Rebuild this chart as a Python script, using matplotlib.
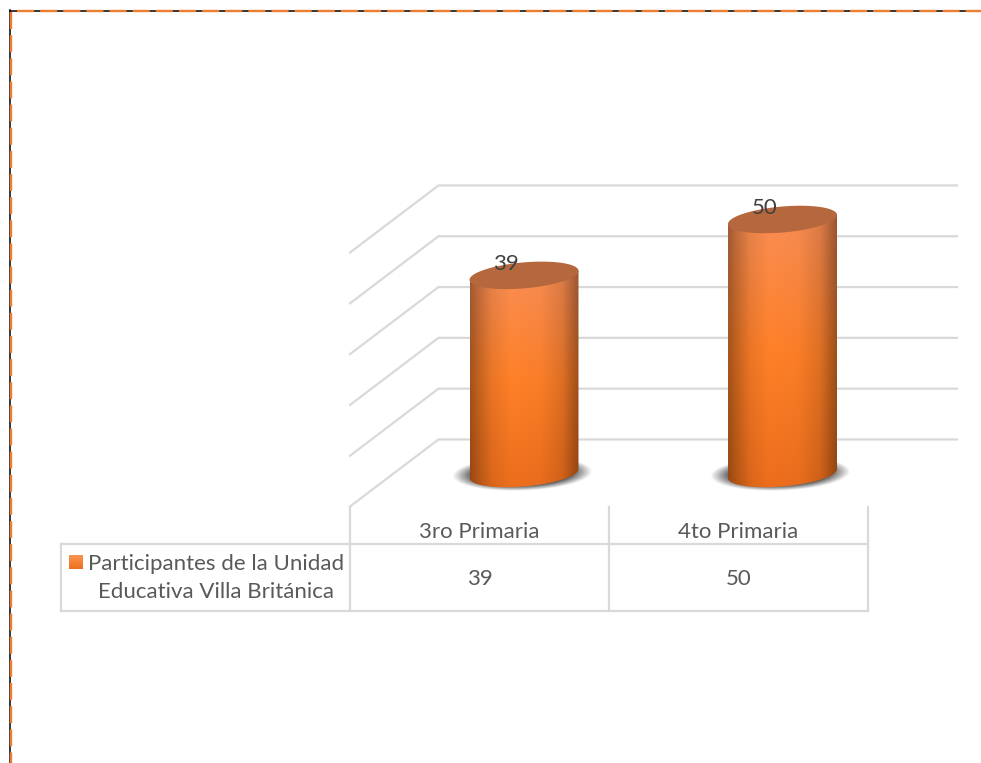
import numpy as np
import matplotlib.pyplot as plt
from matplotlib.path import Path
from matplotlib.patches import PathPatch

plt.rcParams['font.family'] = ['Lato', 'DejaVu Sans']

categories = ['3ro Primaria', '4to Primaria']
values = [39, 50]
series_name = ['Participantes de la Unidad', 'Educativa Villa Británica']
grid_values = [0, 10, 20, 30, 40, 50]

W, H = 981, 763
GRID = '#d9d9d9'
TXT = '#595959'

fig = plt.figure(figsize=(W / 100, H / 100), dpi=100, facecolor='white')

# pixel layer for the page frame and the data table
bg = fig.add_axes([0, 0, 1, 1])
bg.set_xlim(0, W)
bg.set_ylim(H, 0)
bg.axis('off')

# value layer: x in category index, y in chart units
ax = fig.add_axes([0, 0, 1, 1], zorder=2)
ax.patch.set_alpha(0)
ax.axis('off')
px_x = 258.5   # pixels per category
px_y = 5.08    # pixels per value unit
x0, y0 = 524.0, 473.5
ax.set_xlim(-x0 / px_x, (W - x0) / px_x)
ax.set_ylim((y0 - H) / px_y, y0 / px_y)

# walls
wall_x = -0.331
front_x = -0.673
right_x = 1.675
lift = 6.7
drop = 13.2
for v in grid_values:
    yy = v + lift
    ax.plot([front_x, wall_x, right_x], [yy - drop, yy, yy], color=GRID, lw=1.6,
            solid_joinstyle='miter', zorder=1)

half_w = 54.5 / px_x
semi_h = 13 / px_y
tilt = 4.5 / px_y
t = np.linspace(0, 2 * np.pi, 181)


def ellipse_xy(xc, yc):
    return xc + half_w * np.cos(t), yc + semi_h * np.sin(t) + tilt * np.cos(t)


def shadow(xc):
    # soft dark ellipse under the base
    gx = np.linspace(xc - 0.36, xc + 0.36, 220)
    gy = np.linspace(-7, 7, 100)
    xx, yy = np.meshgrid(gx, gy)
    u = (xx - xc + 0.008) / 0.25
    w = (yy + 0.1 - 0.16 * (xx - xc) / 0.25 * 2.6) / 3.1
    r = np.sqrt(u ** 2 + w ** 2)
    a = np.clip((1.08 - r) / 0.3, 0, 1) * 0.85
    img = np.zeros(xx.shape + (4,))
    img[..., :3] = 0.25
    img[..., 3] = a
    ax.imshow(img, extent=[gx[0], gx[-1], gy[0], gy[-1]], origin='lower',
              aspect='auto', zorder=2, interpolation='bilinear')


def cylinder(xc, v):
    ex, ey = ellipse_xy(xc, 0)
    # body outline: lower half of the base, upper edge closed under the lid
    low = np.sin(t) <= 0
    order = np.argsort(ex[low])
    bx, by = ex[low][order], ey[low][order]
    verts = list(zip(bx, by)) + list(zip(bx[::-1], v + tilt * (bx[::-1] - xc) / half_w))
    verts.append(verts[0])
    body = Path(verts)

    nx, ny = 120, 140
    u = np.linspace(0, 1, nx)
    shade = np.interp(u, [0, 0.06, 0.2, 0.38, 0.65, 0.85, 0.95, 1],
                      [0.64, 0.74, 0.92, 1.0, 0.98, 0.87, 0.7, 0.62])
    s = np.linspace(0, 1, ny)
    r = np.interp(s, [0, 0.5, 1], [236, 255, 250])
    g = np.interp(s, [0, 0.5, 1], [110, 128, 142])
    b = np.interp(s, [0, 0.5, 1], [28, 40, 84])
    img = np.zeros((ny, nx, 3))
    img[..., 0] = np.outer(r, shade) / 255
    img[..., 1] = np.outer(g, shade) / 255
    img[..., 2] = np.outer(b, shade) / 255
    bottom = -semi_h - tilt
    top = v + tilt
    im = ax.imshow(img, extent=[xc - half_w, xc + half_w, bottom, top], origin='lower',
                   aspect='auto', zorder=3, interpolation='bilinear')
    clip = PathPatch(body, transform=ax.transData, fc='none', ec='none')
    ax.add_patch(clip)
    im.set_clip_path(clip)

    # lid
    tx, ty = ellipse_xy(xc, v)
    ax.fill(tx, ty, color='#b5673d', lw=0, zorder=4)


for i, v in enumerate(values):
    shadow(i)
for i, v in enumerate(values):
    cylinder(i, v)
    ax.text(i - 18 / px_x, v + 2.3, str(v), color='#404040', fontsize=16,
            ha='center', va='center', zorder=5)

ax.set_xlim(-x0 / px_x, (W - x0) / px_x)
ax.set_ylim((y0 - H) / px_y, y0 / px_y)

# data table
table_lines = [
    ([350, 350], [507, 611]), ([609, 609], [507, 611]), ([868, 868], [507, 611]),
    ([61, 868], [544, 544]), ([61, 868], [611, 611]), ([61, 61], [544, 611]),
]
for lx, ly in table_lines:
    bg.plot(lx, ly, color=GRID, lw=1.6, solid_capstyle='projecting')

for i, c in enumerate(categories):
    xc = 479.5 + 259 * i
    bg.text(xc, 532, c, color=TXT, fontsize=16, ha='center', va='center')
    bg.text(xc, 579, str(values[i]), color=TXT, fontsize=16, ha='center', va='center')

bg.text(88, 564, series_name[0], color=TXT, fontsize=16, ha='left', va='center')
bg.text(216, 592, series_name[1], color=TXT, fontsize=16, ha='center', va='center')

key = np.zeros((20, 1, 3))
key[:, 0, 0] = np.linspace(0.98, 0.93, 20)
key[:, 0, 1] = np.linspace(0.58, 0.44, 20)
key[:, 0, 2] = np.linspace(0.32, 0.12, 20)
bg.imshow(key, extent=[69, 83, 569, 555], aspect='auto', interpolation='bilinear')
bg.set_xlim(0, W)
bg.set_ylim(H, 0)

# page frame: black line with orange dashes over it
bg.plot([10, W], [10.5, 10.5], color='black', lw=1.1)
bg.plot([9.5, 9.5], [10, H], color='black', lw=1.1)
bg.plot([16.5, W], [11, 11], color='#ed7d31', lw=1.7, dashes=(7.2, 2.6))
bg.plot([11, 11], [12, H], color='#ed7d31', lw=1.7, dashes=(7.2, 2.6))

fig.savefig('out.png', dpi=100)
